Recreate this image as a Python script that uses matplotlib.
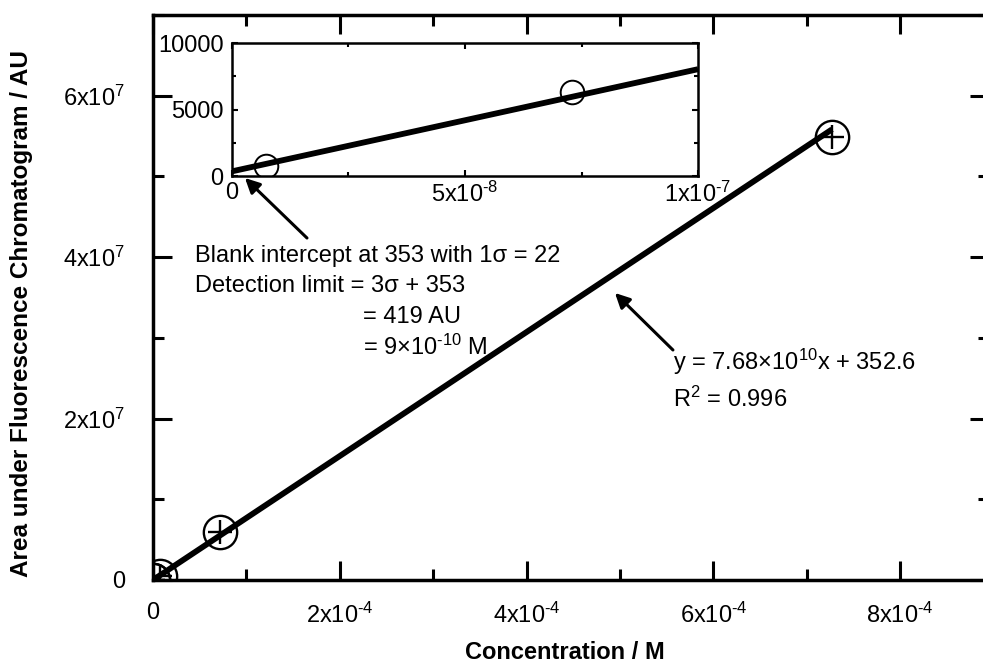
import matplotlib
matplotlib.use("Agg")
import matplotlib.pyplot as plt
from matplotlib.ticker import FixedLocator, FixedFormatter, MultipleLocator

plt.rcParams['font.family'] = ['Liberation Sans', 'DejaVu Sans']
plt.rcParams['mathtext.fontset'] = 'custom'
plt.rcParams['mathtext.rm'] = 'Liberation Sans'
plt.rcParams['mathtext.it'] = 'Liberation Sans:italic'
plt.rcParams['mathtext.bf'] = 'Liberation Sans:bold'

# calibration standards (M) and peak areas (AU)
conc = [7.3e-9, 7.3e-8, 7.3e-6, 7.2e-5, 7.27e-4]
area = [750, 6350, 5.0e5, 5.9e6, 5.49e7]

# linear fit
slope = 7.68e10
intercept = 352.6

x_ticks = [0, 2e-4, 4e-4, 6e-4, 8e-4]
x_labels = ['0', r'2x10$^{\text{-}4}$', r'4x10$^{\text{-}4}$', r'6x10$^{\text{-}4}$', r'8x10$^{\text{-}4}$']
y_ticks = [0, 2e7, 4e7, 6e7]
y_labels = ['0', '2x10$^{7}$', '4x10$^{7}$', '6x10$^{7}$']

in_x_ticks = [0, 5e-8, 1e-7]
in_x_labels = ['0', r'5x10$^{\text{-}8}$', r'1x10$^{\text{-}7}$']
in_y_ticks = [0, 5000, 10000]
in_y_labels = ['0', '5000', '10000']

FS = 17

fig = plt.figure(figsize=(9.83, 6.63), dpi=100)
ax = fig.add_axes([0.1556, 0.1252, 0.8505, 0.8522])

x_fit = [0, conc[-1]]
ax.plot(x_fit, [slope * x + intercept for x in x_fit], color='black', lw=4.2, solid_capstyle='butt')
ax.plot(conc, area, ls='none', marker='o', ms=24, mfc='none', mec='black', mew=1.7)
ax.plot(conc, area, ls='none', marker='+', ms=17, mec='black', mew=1.7)

ax.set_xlim(0, 8.95e-4)
ax.set_ylim(0, 7e7)
ax.xaxis.set_major_locator(FixedLocator(x_ticks))
ax.xaxis.set_major_formatter(FixedFormatter(x_labels))
ax.xaxis.set_minor_locator(MultipleLocator(1e-4))
ax.yaxis.set_major_locator(FixedLocator(y_ticks))
ax.yaxis.set_major_formatter(FixedFormatter(y_labels))
ax.yaxis.set_minor_locator(MultipleLocator(1e7))
ax.tick_params(which='both', direction='in', top=True, right=True, width=2.2, labelsize=FS)
ax.tick_params(which='major', length=14)
ax.tick_params(which='minor', length=8)
ax.tick_params(axis='x', pad=16)
ax.tick_params(axis='y', pad=20)
for sp in ax.spines.values():
    sp.set_linewidth(2.5)

ax.set_xlabel('Concentration / M', fontsize=FS, fontweight='bold')
ax.xaxis.set_label_coords(0.493, -0.108)
ax.set_ylabel('Area under Fluorescence Chromatogram / AU', fontsize=17.5, fontweight='bold')
ax.yaxis.set_label_coords(-0.1435, 0.471)

# low-concentration inset
ins = fig.add_axes([0.2360, 0.7345, 0.4741, 0.2006])
x_in = [0, 1e-7]
ins.plot(x_in, [slope * x + intercept for x in x_in], color='black', lw=4.2, solid_capstyle='butt')
ins.plot(conc[:2], area[:2], ls='none', marker='o', ms=17, mfc='none', mec='black', mew=1.4)
ins.set_xlim(0, 1e-7)
ins.set_ylim(0, 10000)
ins.xaxis.set_major_locator(FixedLocator(in_x_ticks))
ins.xaxis.set_major_formatter(FixedFormatter(in_x_labels))
ins.xaxis.set_minor_locator(MultipleLocator(2.5e-8))
ins.yaxis.set_major_locator(FixedLocator(in_y_ticks))
ins.yaxis.set_major_formatter(FixedFormatter(in_y_labels))
ins.yaxis.set_minor_locator(MultipleLocator(2500))
ins.tick_params(which='both', direction='in', top=True, right=True, width=1.5, labelsize=FS)
ins.tick_params(which='major', length=4)
ins.tick_params(which='minor', length=3)
ins.tick_params(axis='x', pad=4)
ins.tick_params(axis='y', pad=6)
for sp in ins.spines.values():
    sp.set_linewidth(1.8)

arrow = dict(arrowstyle='-|>', color='black', lw=2.2, mutation_scale=22, shrinkA=0, shrinkB=0)
fig.add_artist(plt.Annotation('', xy=(0.2492, 0.7315), xytext=(0.3123, 0.641),
                              xycoords='figure fraction', arrowprops=arrow))
fig.add_artist(plt.Annotation('', xy=(0.6256, 0.5581), xytext=(0.6846, 0.4721),
                              xycoords='figure fraction', arrowprops=arrow))

fig.text(0.1984, 0.6048, 'Blank intercept at 353 with 1σ = 22', fontsize=FS, va='baseline')
fig.text(0.1984, 0.5596, 'Detection limit = 3σ + 353', fontsize=FS, va='baseline')
fig.text(0.3693, 0.5128, '= 419 AU', fontsize=FS, va='baseline')
fig.text(0.3693, 0.4646, r'= 9×10$^{\text{-}10}$ M', fontsize=FS, va='baseline')
fig.text(0.6846, 0.4419, 'y = 7.68×10$^{10}$x + 352.6', fontsize=FS, va='baseline')
fig.text(0.6846, 0.3861, 'R$^{2}$ = 0.996', fontsize=FS, va='baseline')

fig.savefig('out.png', dpi=100)
